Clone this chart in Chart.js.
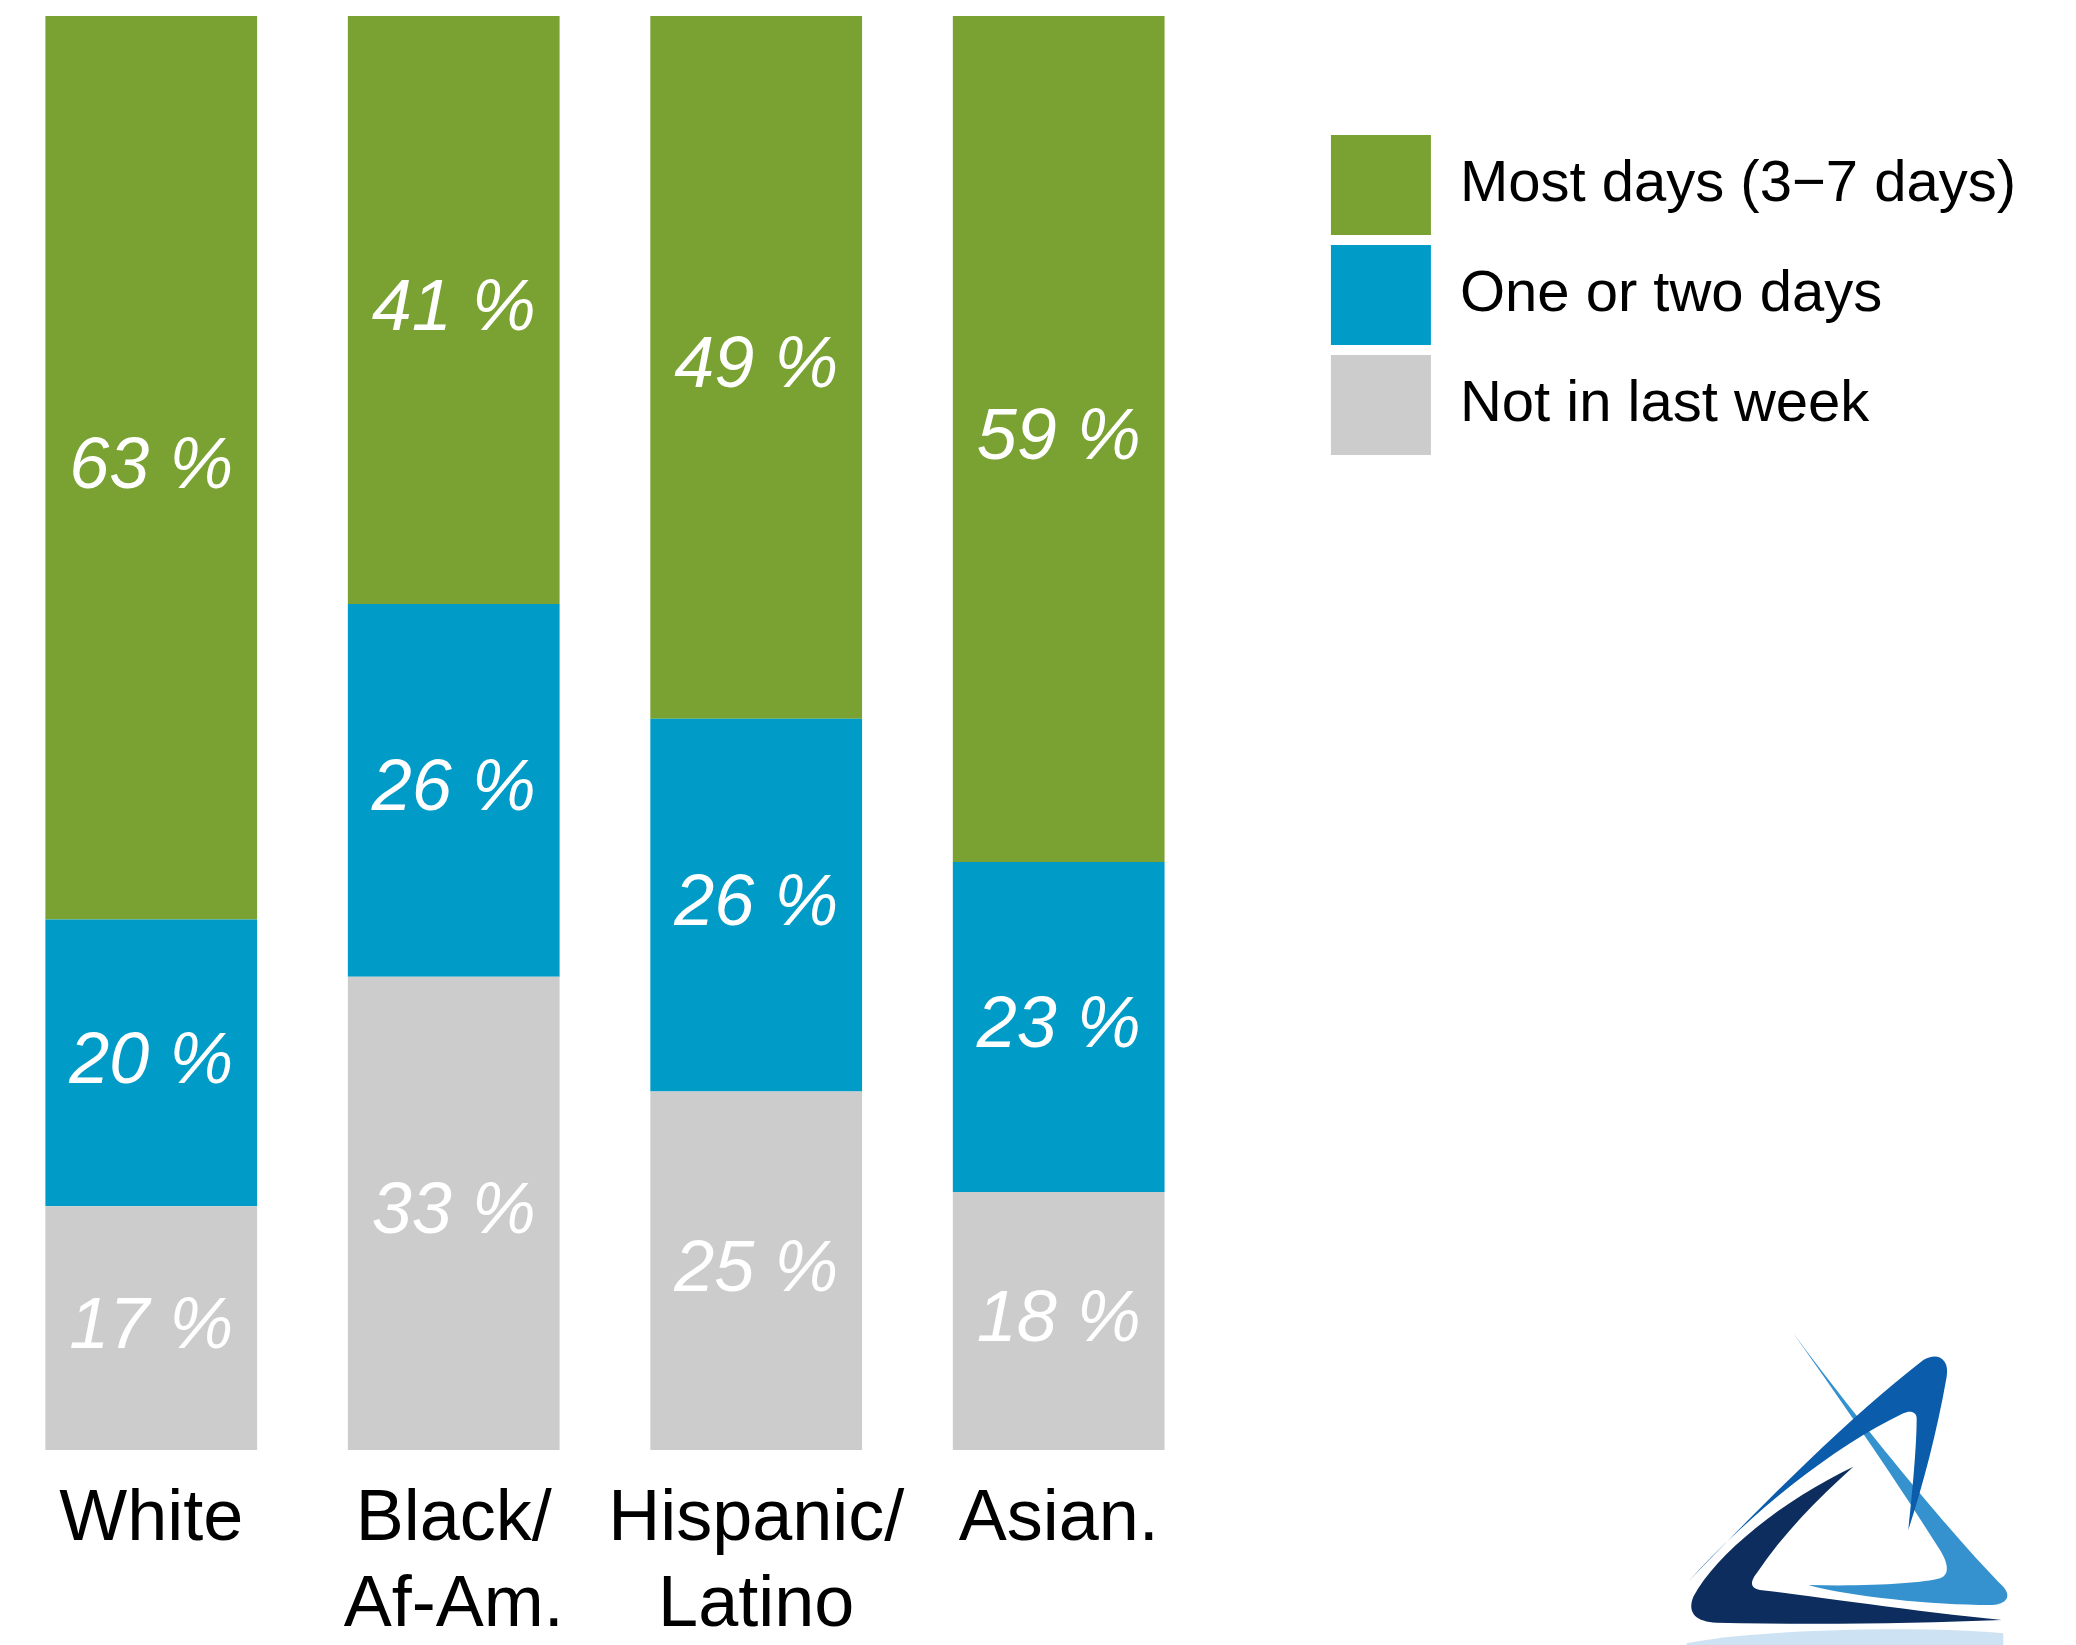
<!DOCTYPE html>
<html>
<head>
<meta charset="utf-8">
<script src="https://cdn.jsdelivr.net/npm/chart.js@4.4.0/dist/chart.umd.min.js"></script>
<style>
  body { margin: 0; background: #fff; }
  #wrap { position: relative; width: 2076px; height: 1645px; }
  #logo { position: absolute; left: 1650px; top: 1300px; width: 426px; height: 345px; }
</style>
</head>
<body>
<div id="wrap">
  <canvas id="chart" width="2076" height="1645"></canvas>
  <svg id="logo" viewBox="0 0 1278 1035">
    <path d="M110 1030 C 300 990, 800 975, 1060 1000 L 1060 1035 L 110 1035 Z" fill="#b8d5ee" opacity="0.7"/>
    <path d="M430 100 C 600 330, 900 700, 1060 860 C 1090 895, 1060 915, 1020 915 C 850 915, 600 890, 475 855 C 650 860, 820 850, 870 835 C 900 825, 895 790, 870 750 C 750 560, 600 340, 430 100 Z" fill="#3592cf"/>
    <path d="M115 845 C 350 600, 600 350, 820 180 C 860 155, 900 175, 890 230 C 860 400, 820 550, 775 690 C 790 550, 800 430, 800 355 C 800 335, 780 330, 760 340 C 550 440, 300 640, 115 845 Z" fill="#0b5dab"/>
    <path d="M610 500 C 400 600, 200 760, 130 890 C 110 940, 140 965, 200 968 C 500 975, 800 970, 1055 960 C 800 935, 500 890, 330 870 C 300 865, 300 845, 320 820 C 400 700, 500 600, 610 500 Z" fill="#0d2d5e"/>
  </svg>
</div>
<script>
const categories = ["White", ["Black/", "Af-Am."], ["Hispanic/", "Latino"], "Asian."];
const mostDays = [63, 41, 49, 59];
const oneOrTwoDays = [20, 26, 26, 23];
const notLastWeek = [17, 33, 25, 18];

const fontFamily = "'Liberation Sans', Arial, Helvetica, sans-serif";

// white italic percentages in the middle of each segment
const segmentLabels = {
    id: "segmentLabels",
    afterDatasetsDraw(chart) {
        const ctx = chart.ctx;
        ctx.save();
        ctx.font = "italic 72px " + fontFamily;
        ctx.fillStyle = "#ffffff";
        ctx.textAlign = "center";
        ctx.textBaseline = "middle";
        chart.data.datasets.forEach((ds, i) => {
            chart.getDatasetMeta(i).data.forEach((bar, j) => {
                const y = (bar.y + bar.base) / 2;
                ctx.fillText(ds.data[j] + " %", bar.x, y);
            });
        });
        ctx.restore();
    },
};

const data = {
    labels: categories,
    datasets: [
        { label: "Not in last week", data: notLastWeek, backgroundColor: "#cccccc" },
        { label: "One or two days", data: oneOrTwoDays, backgroundColor: "#009bc7" },
        { label: "Most days (3\u22127 days)", data: mostDays, backgroundColor: "#79a232" },
    ],
};

const config = {
    type: "bar",
    data: data,
    options: {
        responsive: false,
        devicePixelRatio: 1,
        animation: false,
        layout: { padding: { top: 16, right: 50, bottom: 0, left: 0 } },
        datasets: {
            bar: { categoryPercentage: 1, barPercentage: 0.7, borderWidth: 0 },
        },
        scales: {
            x: {
                stacked: true,
                grid: { display: false, drawTicks: false },
                border: { display: false },
                ticks: {
                    color: "#000",
                    font: { family: fontFamily, size: 72, lineHeight: 1.2 },
                    padding: 27,
                    maxRotation: 0,
                    minRotation: 0,
                    autoSkip: false,
                },
                afterFit: (s) => { s.height = 195; },
            },
            y: {
                stacked: true,
                position: "right",
                min: 0,
                max: 100,
                grid: { display: false, drawTicks: false },
                border: { display: false },
                ticks: { display: false },
                afterFit: (s) => { s.width = 111; },
            },
        },
        plugins: {
            legend: {
                position: "right",
                align: "start",
                reverse: true,
                maxWidth: 900,
                title: { display: true, text: " ", padding: 0, font: { size: 109, lineHeight: 1 } },
                labels: {
                    boxWidth: 100,
                    boxHeight: 100,
                    padding: 10,
                    color: "#000",
                    font: { family: fontFamily, size: 58 },
                },
            },
            tooltip: { enabled: false },
        },
    },
    plugins: [segmentLabels],
};

const stackedChart = new Chart(document.getElementById("chart"), config);
</script>
</body>
</html>
